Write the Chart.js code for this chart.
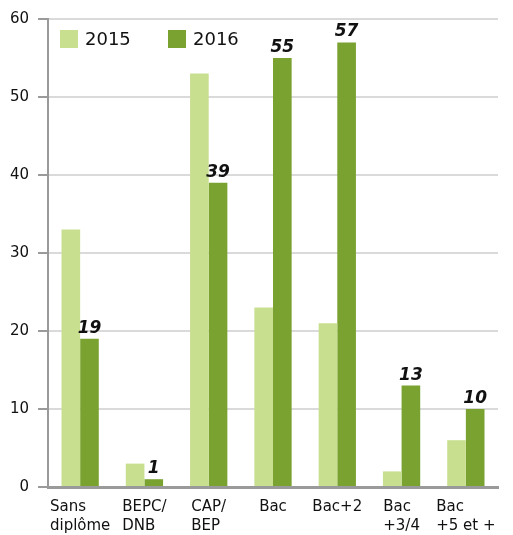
<!DOCTYPE html>
<html>
<head>
<meta charset="utf-8">
<script src="https://cdn.jsdelivr.net/npm/chart.js@4/dist/chart.umd.min.js"></script>
<style>
html,body{margin:0;padding:0;background:#fff;}
#wrap{width:513px;height:535px;}
</style>
</head>
<body>
<div id="wrap"><canvas id="c" width="513" height="535"></canvas></div>
<script>
const categories = [["Sans","diplôme"],["BEPC/","DNB"],["CAP/","BEP"],["Bac"],["Bac+2"],["Bac","+3/4"],["Bac","+5 et +"]];
const series2015 = [33, 3, 53, 23, 21, 2, 6];
const series2016 = [19, 1, 39, 55, 57, 13, 10];
const seriesNames = ["2015", "2016"];
const yTicks = [0, 10, 20, 30, 40, 50, 60];

const FONT = "'DejaVu Sans', sans-serif";
const colors = ["#c8df8f", "#79a230"];

const xLabelPlugin = {
  id: 'xLabels',
  afterDraw(chart) {
    const ctx = chart.ctx, xs = chart.scales.x;
    ctx.save();
    ctx.font = "15px " + FONT;
    ctx.fillStyle = "#111";
    ctx.textAlign = "left";
    ctx.textBaseline = "top";
    categories.forEach((lines, i) => {
      const cx = xs.getPixelForValue(i);
      const w = Math.max(...lines.map(l => ctx.measureText(l).width));
      const left = Math.min(cx - w / 2, chart.width - 4 - w);
      lines.forEach((l, j) => ctx.fillText(l, left, chart.chartArea.bottom + 13 + j * 19));
    });
    ctx.restore();
  }
};

const valueLabelPlugin = {
  id: 'valueLabels',
  afterDatasetsDraw(chart) {
    const ctx = chart.ctx;
    const meta = chart.getDatasetMeta(1);
    ctx.save();
    ctx.font = "italic bold 17px " + FONT;
    ctx.fillStyle = "#111";
    ctx.textAlign = "center";
    ctx.textBaseline = "bottom";
    meta.data.forEach((bar, i) => {
      ctx.fillText(String(series2016[i]), bar.x, bar.y - 2);
    });
    ctx.restore();
  }
};

const legendPlugin = {
  id: 'customLegend',
  afterDraw(chart) {
    const ctx = chart.ctx, a = chart.chartArea;
    ctx.save();
    ctx.font = "18px " + FONT;
    ctx.textAlign = "left";
    ctx.textBaseline = "middle";
    seriesNames.forEach((n, i) => {
      const x = a.left + 12 + i * 108, y = a.top + 11;
      ctx.fillStyle = colors[i];
      ctx.fillRect(x, y, 18, 18);
      ctx.fillStyle = "#111";
      ctx.fillText(n, x + 25, y + 10);
    });
    ctx.restore();
  }
};

new Chart(document.getElementById('c'), {
  type: 'bar',
  data: {
    labels: categories,
    datasets: [
      { label: seriesNames[0], data: series2015, backgroundColor: colors[0], barPercentage: 1, categoryPercentage: 0.58 },
      { label: seriesNames[1], data: series2016, backgroundColor: colors[1], barPercentage: 1, categoryPercentage: 0.58 }
    ]
  },
  options: {
    responsive: false,
    animation: false,
    layout: { padding: { top: 19, right: 15, left: 0, bottom: 0 } },
    plugins: { legend: { display: false }, tooltip: { enabled: false } },
    scales: {
      x: {
        grid: { display: false, drawTicks: false },
        border: { color: "#9a9a9a", width: 3 },
        ticks: { display: false },
        afterFit(s) { s.height = 48; }
      },
      y: {
        min: 0, max: 60,
        afterBuildTicks(s) { s.ticks = yTicks.map(v => ({ value: v })); },
        grid: { color: "#dadada", lineWidth: 2, tickLength: 10, tickColor: "#9a9a9a", tickWidth: 2 },
        border: { color: "#9a9a9a", width: 2 },
        ticks: { font: { family: FONT, size: 15 }, color: "#111", padding: 9 },
        afterFit(s) { s.width = 48; }
      }
    }
  },
  plugins: [xLabelPlugin, valueLabelPlugin, legendPlugin]
});
</script>
</body>
</html>
